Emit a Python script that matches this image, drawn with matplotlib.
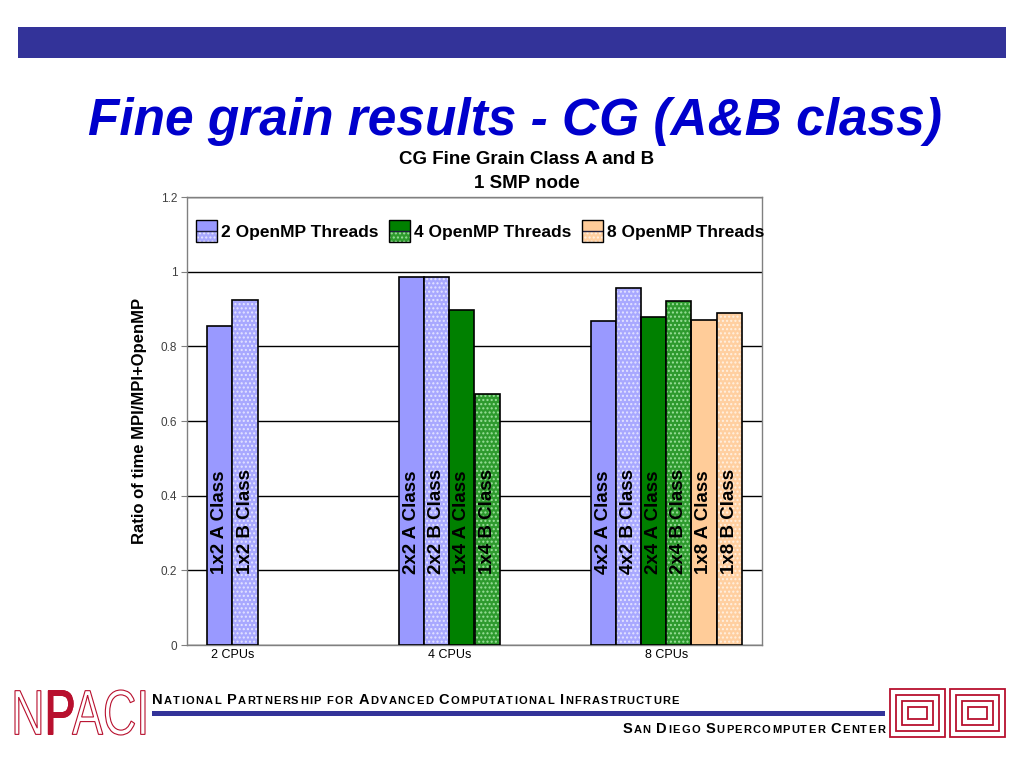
import numpy as np
import matplotlib
matplotlib.use("Agg")
import matplotlib.pyplot as plt
from matplotlib.patches import Rectangle, Patch, PathPatch
from matplotlib.offsetbox import TextArea, HPacker, AnnotationBbox
from matplotlib.textpath import TextPath
from matplotlib.font_manager import FontProperties
from matplotlib.transforms import Affine2D

FONT = "Liberation Sans"
plt.rcParams["font.family"] = [FONT, "DejaVu Sans"]
plt.rcParams["hatch.linewidth"] = 1.0

# --- data --------------------------------------------------------------
cpus = ["2 CPUs", "4 CPUs", "8 CPUs"]
cpu_counts = [2, 4, 8]
threads = [2, 4, 8]
nan = np.nan
class_a = {
    2: [0.855, 0.985, 0.869],
    4: [nan, 0.898, 0.879],
    8: [nan, nan, 0.871],
}
class_b = {
    2: [0.925, 0.985, 0.955],
    4: [nan, 0.673, 0.922],
    8: [nan, nan, 0.890],
}
legend_labels = ["2 OpenMP Threads", "4 OpenMP Threads", "8 OpenMP Threads"]

# colours per thread count: solid (A class), dotted (B class base, dots)
solid = {2: "#9999FF", 4: "#008000", 8: "#FFCC99"}
dotted = {2: ("#A8A8FF", "#E4E4FF"), 4: ("#2E9A2E", "#9BE09B"), 8: ("#FFCFA0", "#FFF0E0")}

W, H = 1024, 768
fig = plt.figure(figsize=(W / 100, H / 100), dpi=100)


def px(x, y):
    return x / W, 1 - y / H


# --- slide decoration --------------------------------------------------
fig.patches.append(Rectangle(px(18, 58), 988 / W, 31 / H, transform=fig.transFigure,
                             facecolor="#333399", edgecolor="none"))
fig.text(*px(515, 135), "Fine grain results - CG (A&B class)", ha="center", va="baseline",
         fontsize=37, weight="bold", style="italic", color="#0000CC")

# --- chart -------------------------------------------------------------
ax = fig.add_axes([187 / W, 1 - 645 / H, 575 / W, 448 / H])
bw = 0.1314
series = []
for t in threads:
    series.append((t, "A", class_a[t]))
    series.append((t, "B", class_b[t]))

xpos_all = [[] for _ in cpus]
for j, (t, cls, vals) in enumerate(series):
    vals = np.array(vals, dtype=float)
    x = np.arange(len(cpus)) + (j - 2.5) * bw
    m = ~np.isnan(vals)
    if cls == "A":
        ax.bar(x[m], vals[m], bw, color=solid[t], edgecolor="black", linewidth=1.2, zorder=3)
    else:
        base, dots = dotted[t]
        ax.bar(x[m], vals[m], bw, color=base, edgecolor=dots, hatch="....", linewidth=0, zorder=3)
        ax.bar(x[m], vals[m], bw, fill=False, edgecolor="black", linewidth=1.2, zorder=4)
    for i in np.where(m)[0]:
        xpos_all[i].append(x[i])
        ax.text(x[i], 0.19, f"{cpu_counts[i] // t}x{t} {cls} Class", rotation=90,
                ha="center", va="bottom", fontsize=13.5, weight="bold", zorder=5)

ax.set_xlim(-0.5, len(cpus) - 0.5)
ax.set_ylim(0, 1.2)
ax.set_yticks(np.arange(0, 1.21, 0.2))
ax.set_yticklabels(["0", "0.2", "0.4", "0.6", "0.8", "1", "1.2"])
ax.set_xticks([np.mean(p) for p in xpos_all])
ax.set_xticklabels(cpus)
ax.tick_params(axis="x", length=0, pad=3, labelsize=9)
ax.tick_params(axis="y", length=4, color="#808080", pad=3, labelsize=8.5, labelcolor="#404040")
for s in ax.spines.values():
    s.set_color("#808080")
    s.set_linewidth(1)
ax.yaxis.grid(True, color="black", linewidth=1)
ax.set_axisbelow(True)
ax.set_ylabel("Ratio of time MPI/MPI+OpenMP", fontsize=12, weight="bold", labelpad=10)

fig.text(*px(527, 160), "CG Fine Grain Class A and B", ha="center", va="center",
         fontsize=13.5, weight="bold")
fig.text(*px(527, 184), "1 SMP node", ha="center", va="center", fontsize=13.5, weight="bold")


# legend with split (solid over dotted) boxes
class SplitHandler:
    def __init__(self, t):
        self.t = t

    def legend_artist(self, legend, orig_handle, fontsize, handlebox):
        x0, y0 = -handlebox.xdescent, -handlebox.ydescent
        w, h = handlebox.width, handlebox.height
        tr = handlebox.get_transform()
        base, dots = dotted[self.t]
        bot = Rectangle((x0, y0), w, h / 2, facecolor=base, edgecolor=dots, hatch="....",
                        linewidth=0, transform=tr)
        top = Rectangle((x0, y0 + h / 2), w, h / 2, facecolor=solid[self.t], edgecolor="none",
                        transform=tr)
        frame = Rectangle((x0, y0), w, h, fill=False, edgecolor="black", linewidth=1, transform=tr)
        mid = Rectangle((x0, y0 + h / 2), w, 0, fill=False, edgecolor="#202040", linewidth=1,
                        transform=tr)
        for a in (bot, top, mid, frame):
            handlebox.add_artist(a)
        return frame


handles = [Patch(label=l) for l in legend_labels]
ax.legend(handles=handles, labels=legend_labels, ncol=3, frameon=False,
          handler_map={h: SplitHandler(t) for h, t in zip(handles, threads)},
          loc="center left", bbox_to_anchor=px(196, 231), bbox_transform=fig.transFigure,
          borderpad=0, borderaxespad=0, handlelength=1.2, handleheight=1.5,
          handletextpad=0.25, columnspacing=0.6,
          prop=dict(family=FONT, size=12.5, weight="bold"))


# --- footer ------------------------------------------------------------
def caps_text(x, y, text, big, small, right=False):
    words = []
    for wd in text.split():
        parts = []
        for ch in wd:
            size = big if ch.isupper() else small
            parts.append(TextArea(ch.upper(), textprops=dict(fontsize=size, weight="bold",
                                                             family=FONT)))
        words.append(HPacker(children=parts, align="baseline", pad=0, sep=0.9))
    box = HPacker(children=words, align="baseline", pad=0, sep=big * 0.4)
    ab = AnnotationBbox(box, (x, H - y), xycoords="figure pixels",
                        box_alignment=(1 if right else 0, 0), frameon=False, pad=0)
    fig.add_artist(ab)


caps_text(152, 707, "National Partnership for Advanced Computational Infrastructure", 10.5, 8)
caps_text(885, 736, "San Diego Supercomputer Center", 10.5, 8, right=True)
fig.patches.append(Rectangle(px(152, 716), 733 / W, 5 / H, transform=fig.transFigure,
                             facecolor="#333399", edgecolor="none"))

# NPACI logo
red = "#B8102E"
prop = FontProperties(family=FONT)
tp = TextPath((0, 0), "NPACI", size=1, prop=prop)
ext = tp.get_extents()
sx, sy = 130 / ext.width, 45 / ext.height
logo_tr = Affine2D().translate(-ext.x0, -ext.y0).scale(sx, sy).translate(15, H - 735) \
    .scale(1 / W, 1 / H) + fig.transFigure
fig.patches.append(PathPatch(tp, facecolor="white", edgecolor=red, linewidth=0.8, transform=logo_tr))
tpp = TextPath((0.722, 0), "P", size=1, prop=prop)
fig.patches.append(PathPatch(tpp, facecolor=red, edgecolor=red, linewidth=0.8, transform=logo_tr))


# SDSC maze logo (rough)
def maze_block(x0, y0, w, h):
    for k in range(4):
        d = k * 6
        fig.patches.append(Rectangle(px(x0 + d, y0 + h - d), (w - 2 * d) / W, (h - 2 * d) / H,
                                     transform=fig.transFigure, fill=False, edgecolor=red,
                                     linewidth=1.3))


maze_block(890, 689, 55, 48)
maze_block(950, 689, 55, 48)

fig.savefig("out.png", dpi=100)
